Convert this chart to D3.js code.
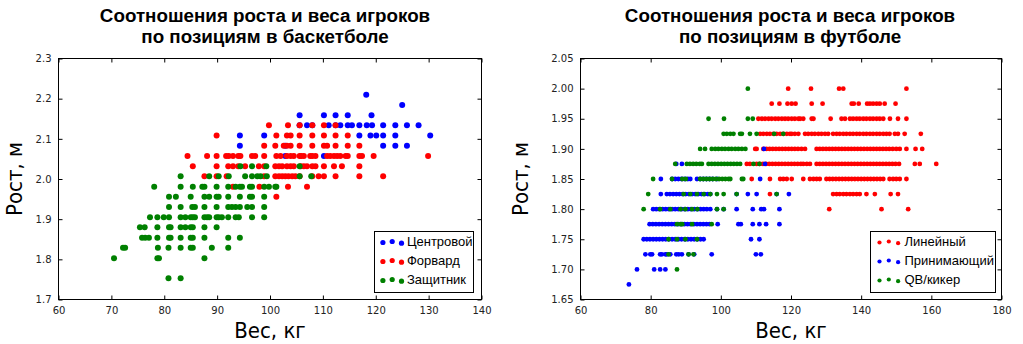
<!DOCTYPE html>
<html>
<head>
<meta charset="utf-8">
<script src="https://cdn.jsdelivr.net/npm/d3@7"></script>
<style>
  body { margin: 0; background: #fff; }
  svg { display: block; }
</style>
</head>
<body>
<svg id="chart" width="1023" height="344"></svg>
<script>
// ---- text ----
const bballTitle = ["Соотношения роста и веса игроков", "по позициям в баскетболе"];
const footballTitle = ["Соотношения роста и веса игроков", "по позициям в футболе"];
const xLabel = "Вес, кг";
const yLabel = "Рост, м";

// ---- ticks ----
const bballXTicks = [60, 70, 80, 90, 100, 110, 120, 130, 140];
const bballYTicks = [1.7, 1.8, 1.9, 2.0, 2.1, 2.2, 2.3];
const footballXTicks = [60, 80, 100, 120, 140, 160, 180];
const footballYTicks = [1.65, 1.70, 1.75, 1.80, 1.85, 1.90, 1.95, 2.00, 2.05];

// ---- legend entries ----
const bballPositions = ["Центровой", "Форвард", "Защитник"];
const bballColors = ["#0000ff", "#ff0000", "#008000"];
const footballPositions = ["Линейный", "Принимающий", "QB/кикер"];
const footballColors = ["#ff0000", "#0000ff", "#008000"];

// ---- basketball players: [height m, [weights kg]] ----
const centers = [
  [2.057, [102.9, 110.2]],
  [2.083, [94.3, 102.9, 121.4, 123.7, 125.9]],
  [2.108, [94.3, 98.9, 116.9, 119.0, 120.1, 121.4, 123.7, 130.3]],
  [2.134, [105.6, 107.0, 108.0, 111.1, 112.4, 113.3, 114.7, 115.5, 116.9, 118.3, 119.3, 121.4, 123.7, 125.9, 128.1]],
  [2.159, [105.6, 110.2, 112.4, 114.7, 119.2]],
  [2.184, [125.0]],
  [2.210, [118.2]]
];
const forwards = [
  [1.956, [101.2]],
  [1.981, [93.0, 98.0, 103.4, 107.0]],
  [2.007, [87.6, 89.9, 91.8, 98.9, 101.0, 101.7, 102.3, 102.9, 103.5, 104.2, 104.8, 105.6, 108.0, 109.2, 110.2, 112.4, 116.9, 121.4]],
  [2.032, [85.4, 89.9, 92.1, 93.0, 94.0, 95.3, 97.9, 98.9, 101.0, 101.7, 102.3, 103.2, 103.9, 104.5, 105.8, 106.4, 107.0, 108.0, 108.6, 110.2, 112.1, 113.6, 116.9]],
  [2.057, [84.4, 88.1, 89.9, 91.7, 92.2, 93.0, 94.0, 94.4, 96.6, 97.2, 98.9, 101.2, 102.0, 103.2, 103.9, 104.5, 105.6, 105.9, 106.4, 107.6, 108.0, 108.6, 110.8, 111.4, 112.1, 112.7, 113.3, 114.3, 114.7, 116.9, 117.4, 119.6, 129.9]],
  [2.083, [98.9, 101.0, 102.6, 103.2, 103.9, 105.6, 108.0, 110.2, 110.8, 112.4, 114.7, 116.9]],
  [2.108, [89.9, 101.2, 103.2, 103.9, 105.6, 108.0, 110.2, 112.4, 114.7]],
  [2.134, [99.8, 103.4, 105.6, 108.0, 110.2, 112.4]]
];
const guards = [
  [1.753, [80.8, 83.1]],
  [1.803, [70.5, 78.7, 79.0, 87.6]],
  [1.829, [72.2, 72.6, 78.8, 80.8, 83.1, 85.0, 85.4, 89.0, 92.1]],
  [1.854, [75.8, 76.4, 77.1, 78.7, 80.9, 81.2, 83.1, 85.0, 85.4, 87.6, 92.1, 94.3]],
  [1.880, [75.4, 76.3, 78.7, 80.9, 81.2, 83.1, 84.0, 85.0, 85.4, 87.6, 89.9]],
  [1.905, [77.3, 78.7, 79.9, 80.9, 83.1, 84.0, 85.0, 85.4, 85.8, 87.6, 88.1, 88.5, 89.9, 90.3, 90.9, 92.1, 93.5, 94.1, 96.6, 98.9]],
  [1.930, [80.9, 83.1, 85.3, 85.8, 87.6, 89.9, 92.1, 92.8, 93.5, 94.3, 95.7, 96.6, 98.9]],
  [1.956, [80.9, 82.2, 85.0, 87.6, 88.5, 89.9, 90.3, 92.1, 94.3, 96.2, 96.6, 98.9]],
  [1.981, [78.1, 83.1, 85.4, 87.2, 87.6, 89.9, 92.1, 93.5, 94.3, 94.7, 96.2, 96.6, 98.9, 99.8, 101.0, 101.2]],
  [2.007, [83.1, 88.5, 90.3, 92.2, 95.3, 96.6, 97.6, 98.2, 99.4, 105.6, 107.8]],
  [2.032, [94.4, 96.6, 99.3, 105.6]]
];

// ---- football players: [height m, [weights kg]] ----
const linemen = [
  [2.000, [119.2, 125.7, 133.7, 134.9, 152.9]],
  [1.975, [114.5, 116.7, 119.0, 120.2, 121.3, 125.9, 129.0, 137.3, 137.9, 139.3, 141.7, 142.5, 143.4, 144.4, 145.3, 146.7, 149.8]],
  [1.950, [110.7, 111.7, 112.6, 113.6, 114.5, 115.5, 116.4, 117.4, 118.3, 119.2, 120.2, 121.1, 122.1, 122.6, 123.5, 125.9, 126.4, 131.3, 134.4, 135.4, 136.8, 137.7, 138.7, 139.6, 140.6, 141.5, 142.5, 143.4, 144.4, 145.3, 146.3, 148.2, 150.5, 152.9]],
  [1.925, [111.2, 112.1, 113.1, 114.0, 115.0, 115.9, 116.9, 117.8, 118.8, 119.7, 120.2, 121.1, 122.1, 124.0, 124.9, 125.9, 126.8, 127.8, 128.7, 129.7, 130.6, 132.0, 133.0, 133.9, 134.9, 135.8, 136.8, 137.7, 138.7, 139.6, 140.6, 141.5, 142.5, 143.4, 144.4, 145.3, 146.3, 147.2, 148.1, 149.6, 150.5, 152.4, 157.0]],
  [1.900, [109.8, 110.2, 112.1, 113.0, 113.9, 114.8, 115.7, 116.6, 117.5, 118.4, 119.3, 120.2, 121.1, 122.0, 123.0, 124.0, 127.3, 128.2, 129.1, 130.0, 130.9, 131.8, 132.7, 133.6, 134.5, 135.4, 136.3, 137.2, 138.1, 139.0, 139.9, 140.8, 141.7, 142.6, 143.5, 144.4, 145.3, 146.2, 147.1, 148.0, 149.0, 150.0, 151.0, 152.9, 155.5, 157.4]],
  [1.875, [107.4, 108.3, 110.2, 111.1, 112.0, 112.9, 113.8, 114.7, 115.6, 116.5, 117.4, 118.3, 119.2, 120.1, 121.0, 121.9, 122.8, 123.5, 124.5, 125.4, 127.3, 128.2, 129.1, 130.0, 130.9, 131.8, 132.7, 133.6, 134.5, 135.4, 136.3, 137.2, 138.1, 139.0, 139.9, 140.8, 141.7, 142.6, 143.5, 144.4, 145.3, 146.2, 147.1, 148.0, 148.9, 149.8, 150.8, 155.3, 156.7, 161.4]],
  [1.850, [108.8, 114.0, 116.9, 117.8, 118.8, 120.2, 123.5, 125.4, 126.4, 127.3, 128.2, 130.1, 131.0, 131.9, 132.8, 133.7, 134.6, 135.5, 136.4, 137.3, 138.2, 139.1, 140.0, 140.9, 141.8, 142.7, 143.6, 144.5, 145.4, 146.3, 148.1, 149.1, 150.0, 151.0, 152.9]],
  [1.825, [114.0, 132.0, 133.0, 133.9, 134.9, 135.8, 136.8, 137.7, 138.7, 139.6, 141.5, 143.9, 148.4, 150.5]],
  [1.800, [130.9, 145.8, 153.4]]
];
const receivers = [
  [1.675, [73.8]],
  [1.700, [76.1, 81.0, 82.7, 84.2]],
  [1.725, [78.5, 79.9, 80.4, 82.7, 83.2, 84.2, 84.6, 85.6, 87.3, 88.0, 88.9, 90.8, 92.4, 97.4, 110.0, 111.4]],
  [1.750, [78.0, 78.9, 79.8, 80.7, 81.6, 82.5, 83.4, 84.3, 85.2, 86.1, 87.0, 87.9, 88.8, 89.7, 90.6, 91.5, 92.4, 93.3, 94.2, 95.1, 108.6, 111.0]],
  [1.775, [79.7, 80.6, 81.5, 82.4, 83.3, 84.2, 85.1, 86.0, 86.9, 87.8, 88.7, 89.6, 90.5, 91.4, 92.3, 93.2, 94.1, 95.0, 95.9, 96.8, 99.1, 105.0, 105.7, 109.1, 111.0, 112.9, 116.7]],
  [1.800, [80.7, 81.6, 82.5, 83.4, 84.3, 85.2, 86.1, 87.0, 87.9, 88.8, 89.7, 90.6, 91.5, 92.4, 93.3, 94.2, 95.1, 96.0, 97.0, 98.9, 100.8, 104.5, 109.1, 111.5, 112.3, 116.7]],
  [1.825, [82.9, 84.6, 85.5, 86.4, 87.3, 88.2, 89.1, 90.0, 90.9, 91.8, 92.7, 93.6, 94.5, 95.4, 96.3, 97.0, 104.5, 107.7, 110.2, 115.9, 119.4]],
  [1.850, [82.9, 86.1, 87.0, 87.9, 88.8, 89.7, 90.6, 91.3, 93.2, 94.1, 95.0, 95.9, 96.8, 97.7, 98.9, 111.2]],
  [1.875, [87.3, 88.9, 112.6]],
  [1.900, [112.3]]
];
const qbKickers = [
  [2.000, [107.7]],
  [1.950, [96.5, 100.9, 107.7, 109.1]],
  [1.925, [100.8, 101.7, 102.7, 103.6, 105.5, 106.0, 108.3, 110.2, 115.2, 117.8]],
  [1.900, [94.1, 95.5, 97.4, 98.4, 99.3, 100.3, 101.2, 102.2, 103.1, 104.1, 105.0, 106.0, 107.0]],
  [1.875, [87.0, 90.3, 91.2, 92.1, 93.0, 94.0, 94.6, 96.5, 97.4, 98.3, 99.2, 100.1, 101.0, 101.9, 102.8, 103.7, 104.6, 105.5, 109.3, 111.0]],
  [1.850, [80.7, 86.1, 89.0, 90.0, 94.1, 95.0, 95.9, 96.8, 97.7, 98.6, 99.5, 100.4, 101.3, 102.2, 102.7, 106.0, 106.4]],
  [1.825, [79.3, 89.4, 91.3, 93.2, 95.1, 97.0, 98.9, 100.8, 104.5, 115.9]],
  [1.800, [78.0, 82.7, 85.6, 88.5, 89.9, 91.8, 93.3, 98.9, 100.8]],
  [1.775, [87.5, 88.5, 89.0, 91.8, 97.4]],
  [1.750, [85.1, 87.5, 89.9, 93.2]],
  [1.725, [85.1, 90.8, 92.2]],
  [1.700, [87.5]]
];

const svg = d3.select("#chart");
const tickFont = "'DejaVu Sans', sans-serif";
const labelFont = "'Liberation Sans Narrow', 'DejaVu Sans Condensed', 'Liberation Sans', sans-serif";
const titleFont = "'Liberation Sans', Arial, sans-serif";

function drawPanel(cfg) {
  const { left, right, top, bottom } = cfg;
  const x = d3.scaleLinear().domain(cfg.xDomain).range([left, right]);
  const y = d3.scaleLinear().domain(cfg.yDomain).range([bottom, top]);
  const g = svg.append("g");

  // scatter points, one group per position
  cfg.series.forEach((rows, i) => {
    const pts = rows.flatMap(([h, ws]) => ws.map(w => [w, h]));
    g.append("g")
      .selectAll("circle")
      .data(pts)
      .join("circle")
      .attr("cx", d => x(d[0]))
      .attr("cy", d => y(d[1]))
      .attr("r", cfg.r)
      .attr("fill", cfg.colors[i]);
  });

  // inward ticks on all four sides
  const styleAxis = sel => {
    sel.select(".domain").remove();
    sel.selectAll(".tick line").attr("stroke", "#000");
    sel.selectAll("text")
      .attr("font-family", tickFont)
      .attr("font-size", 10)
      .attr("fill", "#222");
  };
  g.append("g").attr("transform", `translate(0,${bottom})`)
    .call(d3.axisBottom(x).tickValues(cfg.xTicks).tickFormat(d3.format("d"))
      .tickSizeInner(-4).tickSizeOuter(0).tickPadding(7))
    .call(styleAxis);
  g.append("g").attr("transform", `translate(0,${top})`)
    .call(d3.axisTop(x).tickValues(cfg.xTicks).tickFormat("")
      .tickSizeInner(-4).tickSizeOuter(0))
    .call(styleAxis);
  g.append("g").attr("transform", `translate(${left},0)`)
    .call(d3.axisLeft(y).tickValues(cfg.yTicks).tickFormat(d3.format(cfg.yFormat))
      .tickSizeInner(-4).tickSizeOuter(0).tickPadding(7))
    .call(styleAxis);
  g.append("g").attr("transform", `translate(${right},0)`)
    .call(d3.axisRight(y).tickValues(cfg.yTicks).tickFormat("")
      .tickSizeInner(-4).tickSizeOuter(0))
    .call(styleAxis);

  // frame
  g.append("rect")
    .attr("x", left).attr("y", top)
    .attr("width", right - left).attr("height", bottom - top)
    .attr("fill", "none").attr("stroke", "#000").attr("stroke-width", 1);

  // title
  const cx = (left + right) / 2;
  g.append("text")
    .attr("x", cfg.titleX).attr("y", 22)
    .attr("text-anchor", "middle")
    .attr("font-family", titleFont).attr("font-weight", "bold").attr("font-size", 18.8)
    .selectAll("tspan").data(cfg.title).join("tspan")
    .attr("x", cfg.titleX).attr("dy", (d, i) => i === 0 ? 0 : 21)
    .text(d => d);

  // axis labels
  g.append("text")
    .attr("x", cx).attr("y", 338)
    .attr("text-anchor", "middle")
    .attr("font-family", labelFont).attr("font-size", 22)
    .text(xLabel);
  g.append("text")
    .attr("transform", `translate(${cfg.yLabelX},${(top + bottom) / 2}) rotate(-90)`)
    .attr("text-anchor", "middle")
    .attr("font-family", labelFont).attr("font-size", 22)
    .text(yLabel);

  // legend
  const L = cfg.legend;
  const lg = g.append("g").attr("transform", `translate(${L.x},${L.y})`);
  lg.append("rect")
    .attr("width", L.w).attr("height", L.h)
    .attr("fill", "#fff").attr("stroke", "#000").attr("stroke-width", 1);
  const dotDx = [L.dot0, L.dot0 + 9.3, L.dot0 + 18.6];
  const dotDy = [1, 0, 1.7];
  cfg.names.forEach((name, i) => {
    const rowY = 10 + i * 19;
    dotDx.forEach((dx, k) => {
      lg.append("circle")
        .attr("cx", dx).attr("cy", rowY + dotDy[k])
        .attr("r", cfg.legendR).attr("fill", cfg.colors[i]);
    });
    lg.append("text")
      .attr("x", L.textX).attr("y", rowY + 4.8)
      .attr("font-family", titleFont).attr("font-size", 13)
      .text(name);
  });
}

drawPanel({
  left: 58.5, right: 481.5, top: 58.5, bottom: 299.5,
  xDomain: [60, 140], yDomain: [1.7, 2.3],
  xTicks: bballXTicks, yTicks: bballYTicks, yFormat: ".1f",
  series: [centers, forwards, guards], colors: bballColors, names: bballPositions,
  r: 3, legendR: 2.6,
  title: bballTitle, titleX: 265, yLabelX: 22,
  legend: { x: 374.5, y: 231.5, w: 99, h: 61, dot0: 8.4, textX: 32.4 }
});

drawPanel({
  left: 580.5, right: 1001.5, top: 58.5, bottom: 299.5,
  xDomain: [60, 180], yDomain: [1.65, 2.05],
  xTicks: footballXTicks, yTicks: footballYTicks, yFormat: ".2f",
  series: [linemen, receivers, qbKickers], colors: footballColors, names: footballPositions,
  r: 2.4, legendR: 2.1,
  title: footballTitle, titleX: 790, yLabelX: 528,
  legend: { x: 870.5, y: 231.5, w: 125, h: 61, dot0: 9, textX: 34 }
});
</script>
</body>
</html>
